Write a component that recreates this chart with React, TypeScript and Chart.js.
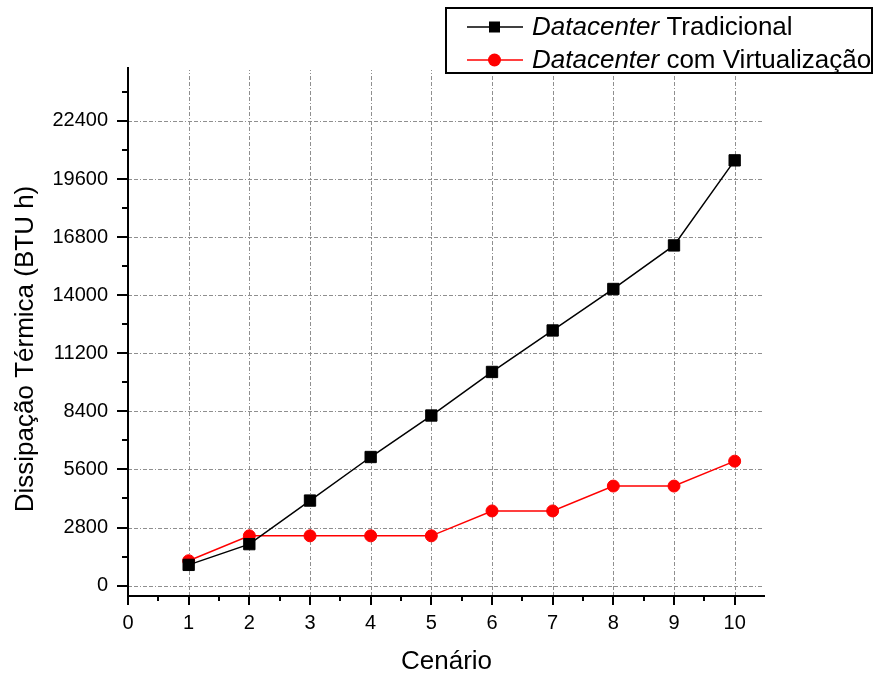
import React, { useEffect, useRef } from "react";
import { Chart, registerables } from "chart.js";

Chart.register(...registerables);

// ---- data ----
const scenarios = [1, 2, 3, 4, 5, 6, 7, 8, 9, 10];
const traditional = [1000, 2000, 4100, 6200, 8200, 10300, 12300, 14300, 16400, 20500];
const virtualized = [1200, 2400, 2400, 2400, 2400, 3600, 3600, 4800, 4800, 6000];

const xTicks = [0, 1, 2, 3, 4, 5, 6, 7, 8, 9, 10];
const xMinorTicks = [0.5, 1.5, 2.5, 3.5, 4.5, 5.5, 6.5, 7.5, 8.5, 9.5];
const xGrid = [1, 2, 3, 4, 5, 6, 7, 8, 9, 10];
const yTicks = [0, 2800, 5600, 8400, 11200, 14000, 16800, 19600, 22400];
const yMinorTicks = [1400, 4200, 7000, 9800, 12600, 15400, 18200, 21000, 23800];

const legendItalic = ["Datacenter", "Datacenter"];
const legendRest = [" Tradicional", " com Virtualização"];
const xTitle = "Cenário";
const yTitle = "Dissipação Térmica (BTU h)";

const FONT = '"Liberation Sans", Arial, sans-serif';

const originPlugin = {
  id: "originStyle",
  beforeDatasetsDraw(chart: any) {
    const { ctx, chartArea } = chart;
    const xs = chart.scales.x;
    const ys = chart.scales.y;
    ctx.save();
    ctx.strokeStyle = "#8f8f8f";
    ctx.lineWidth = 1;
    ctx.setLineDash([4, 2, 4, 2, 1, 2]);
    yTicks.forEach((v) => {
      const y = Math.round(ys.getPixelForValue(v)) + 0.5;
      ctx.beginPath();
      ctx.moveTo(chartArea.left, y);
      ctx.lineTo(chartArea.right - 2, y);
      ctx.stroke();
    });
    xGrid.forEach((v) => {
      const x = Math.round(xs.getPixelForValue(v)) + 0.5;
      ctx.beginPath();
      ctx.moveTo(x, chartArea.bottom);
      ctx.lineTo(x, chartArea.top + 3);
      ctx.stroke();
    });
    ctx.restore();
  },
  afterDatasetsDraw(chart: any) {
    const { ctx, chartArea } = chart;
    const xs = chart.scales.x;
    const ys = chart.scales.y;
    ctx.save();
    ctx.setLineDash([]);
    ctx.strokeStyle = "#000";
    ctx.lineWidth = 2;
    // axes
    ctx.beginPath();
    ctx.moveTo(chartArea.left, chartArea.top);
    ctx.lineTo(chartArea.left, chartArea.bottom + 1);
    ctx.moveTo(chartArea.left - 1, chartArea.bottom);
    ctx.lineTo(chartArea.right, chartArea.bottom);
    ctx.stroke();
    // y ticks
    ctx.beginPath();
    yTicks.forEach((v) => {
      const y = Math.round(ys.getPixelForValue(v));
      ctx.moveTo(chartArea.left, y);
      ctx.lineTo(chartArea.left - 11, y);
    });
    yMinorTicks.forEach((v) => {
      const y = Math.round(ys.getPixelForValue(v));
      ctx.moveTo(chartArea.left, y);
      ctx.lineTo(chartArea.left - 6, y);
    });
    // x ticks
    xTicks.forEach((v) => {
      const x = Math.round(xs.getPixelForValue(v));
      ctx.moveTo(x, chartArea.bottom);
      ctx.lineTo(x, chartArea.bottom + 9);
    });
    xMinorTicks.forEach((v) => {
      const x = Math.round(xs.getPixelForValue(v));
      ctx.moveTo(x, chartArea.bottom);
      ctx.lineTo(x, chartArea.bottom + 5);
    });
    ctx.stroke();

    // y title
    ctx.fillStyle = "#000";
    ctx.font = `26px ${FONT}`;
    ctx.textAlign = "center";
    ctx.textBaseline = "middle";
    ctx.translate(26, 349);
    ctx.rotate(-Math.PI / 2);
    ctx.fillText(yTitle, 0, 0);
    ctx.restore();

    // legend
    ctx.save();
    const bx = 446, by = 8, bw = 426, bh = 65;
    ctx.fillStyle = "#fff";
    ctx.fillRect(bx, by, bw, bh);
    ctx.strokeStyle = "#000";
    ctx.lineWidth = 2;
    ctx.strokeRect(bx, by, bw, bh);
    const rows = [27, 60];
    chart.data.datasets.forEach((ds: any, i: number) => {
      const y = rows[i];
      ctx.strokeStyle = ds.borderColor;
      ctx.lineWidth = 1.5;
      ctx.beginPath();
      ctx.moveTo(467, y);
      ctx.lineTo(523, y);
      ctx.stroke();
      ctx.fillStyle = ds.backgroundColor;
      if (ds.pointStyle === "rect") {
        ctx.fillRect(489, y - 5.5, 11, 11);
      } else {
        ctx.beginPath();
        ctx.arc(494.5, y, 6.5, 0, Math.PI * 2);
        ctx.fill();
      }
      ctx.fillStyle = "#000";
      ctx.textAlign = "left";
      ctx.textBaseline = "middle";
      ctx.font = `italic 26px ${FONT}`;
      const italic = legendItalic[i];
      ctx.fillText(italic, 532, y + 1);
      const w = ctx.measureText(italic).width;
      ctx.font = `26px ${FONT}`;
      ctx.fillText(legendRest[i], 532 + w, y + 1);
    });
    ctx.restore();
  },
};

export default function App() {
  const ref = useRef<HTMLCanvasElement | null>(null);

  useEffect(() => {
    if (!ref.current) return;
    const chart = new Chart(ref.current, {
      type: "line",
      data: {
        datasets: [
          {
            label: legendItalic[0] + legendRest[0],
            data: scenarios.map((x, i) => ({ x, y: traditional[i] })),
            borderColor: "#000",
            backgroundColor: "#000",
            borderWidth: 1.5,
            pointStyle: "rect",
            pointRadius: 8,
            pointBorderWidth: 1,
            pointBackgroundColor: "#000",
            pointBorderColor: "#000",
            tension: 0,
          },
          {
            label: legendItalic[1] + legendRest[1],
            data: scenarios.map((x, i) => ({ x, y: virtualized[i] })),
            borderColor: "#ff0000",
            backgroundColor: "#ff0000",
            borderWidth: 1.5,
            pointStyle: "circle",
            pointRadius: 6,
            pointBorderWidth: 1,
            pointBackgroundColor: "#ff0000",
            pointBorderColor: "#ff0000",
            tension: 0,
          },
        ],
      },
      options: {
        responsive: false,
        animation: false,
        layout: { padding: { top: 67, right: 109, left: 0, bottom: 0 } },
        plugins: {
          legend: { display: false },
          tooltip: { enabled: false },
        },
        scales: {
          x: {
            type: "linear",
            min: 0,
            max: 10.5,
            grid: { display: false, drawTicks: false },
            border: { display: false },
            afterBuildTicks: (s: any) => {
              s.ticks = xTicks.map((v) => ({ value: v }));
            },
            afterFit: (s: any) => {
              s.height = 79;
            },
            ticks: {
              color: "#000",
              padding: 15,
              maxRotation: 0,
              autoSkip: false,
              font: { family: FONT, size: 20 },
            },
            title: {
              display: true,
              text: xTitle,
              color: "#000",
              font: { family: FONT, size: 26, lineHeight: 1 },
              padding: { top: 0, bottom: 0 },
            },
          },
          y: {
            type: "linear",
            min: -500,
            max: 25000,
            grid: { display: false, drawTicks: false },
            border: { display: false },
            afterBuildTicks: (s: any) => {
              s.ticks = yTicks.map((v) => ({ value: v }));
            },
            afterFit: (s: any) => {
              s.width = 128;
            },
            ticks: {
              color: "#000",
              padding: 20,
              autoSkip: false,
              font: { family: FONT, size: 20 },
              callback: (v: any) => String(v),
            },
          },
        },
      },
      plugins: [originPlugin],
    } as any);
    return () => chart.destroy();
  }, []);

  return (
    <div style={{ position: "fixed", left: 0, top: 0, width: 874, height: 675, background: "#fff" }}>
      <canvas ref={ref} width={874} height={675} style={{ display: "block" }} />
    </div>
  );
}
